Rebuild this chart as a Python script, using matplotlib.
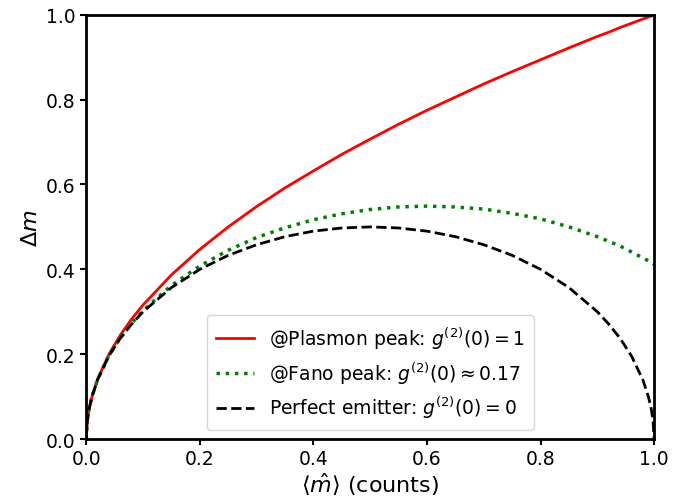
import matplotlib
matplotlib.use("Agg")
import matplotlib.pyplot as plt
import numpy as np

# values (x = <m>, y = delta m)
x_vals = [0.0, 0.002, 0.005, 0.01, 0.02, 0.04, 0.06, 0.08, 0.1, 0.15, 0.2, 0.25,
          0.3, 0.35, 0.4, 0.45, 0.5, 0.55, 0.6, 0.65, 0.7, 0.75, 0.8, 0.85,
          0.9, 0.92, 0.94, 0.96, 0.98, 0.99, 0.995, 0.998, 1.0]

plasmon = [0.0, 0.045, 0.071, 0.1, 0.141, 0.2, 0.245, 0.283, 0.316, 0.387, 0.447, 0.5,
           0.548, 0.592, 0.632, 0.671, 0.707, 0.742, 0.775, 0.806, 0.837, 0.866, 0.894, 0.922,
           0.949, 0.959, 0.970, 0.980, 0.990, 0.995, 0.997, 0.999, 1.0]

fano = [0.0, 0.045, 0.071, 0.0996, 0.140, 0.197, 0.239, 0.273, 0.303, 0.362, 0.408, 0.445,
        0.475, 0.498, 0.517, 0.531, 0.541, 0.547, 0.549, 0.547, 0.542, 0.532, 0.519, 0.500,
        0.477, 0.466, 0.455, 0.441, 0.427, 0.420, 0.416, 0.414, 0.412]

perfect = [0.0, 0.045, 0.0705, 0.0995, 0.140, 0.196, 0.2375, 0.271, 0.300, 0.357, 0.400, 0.433,
           0.458, 0.477, 0.490, 0.4975, 0.500, 0.4975, 0.490, 0.477, 0.458, 0.433, 0.400, 0.357,
           0.300, 0.271, 0.2375, 0.196, 0.140, 0.0995, 0.0705, 0.045, 0.0]

labels = [r"@Plasmon peak: $g^{(2)}(0) = 1$",
          r"@Fano peak: $g^{(2)}(0) \approx 0.17$",
          r"Perfect emitter: $g^{(2)}(0) = 0$"]

fig = plt.figure(figsize=(6.9, 5.02), dpi=100)
ax = fig.add_axes([0.125, 0.1235, 0.823, 0.845])

ax.plot(x_vals, plasmon, color="red", lw=2, label=labels[0])
ax.plot(x_vals, fano, color="green", lw=2.5, ls=":", label=labels[1])
ax.plot(x_vals, perfect, color="black", lw=2, ls="--", label=labels[2])

ax.set_xlim(0, 1)
ax.set_ylim(0, 1)
ax.set_xticks(np.arange(0, 1.01, 0.2))
ax.set_yticks(np.arange(0, 1.01, 0.2))
ax.tick_params(labelsize=13.5, width=1.5, length=4)
for s in ax.spines.values():
    s.set_linewidth(2)

ax.set_xlabel(r"$\langle\hat{m}\rangle$ (counts)", fontsize=16, labelpad=1)
ax.set_ylabel(r"$\Delta m$", fontsize=16)

ax.legend(loc="lower center", fontsize=13.5, handlelength=2.0, borderpad=0.5,
          labelspacing=0.45, bbox_to_anchor=(0.5, 0.0))

fig.savefig("out.png", dpi=100)
